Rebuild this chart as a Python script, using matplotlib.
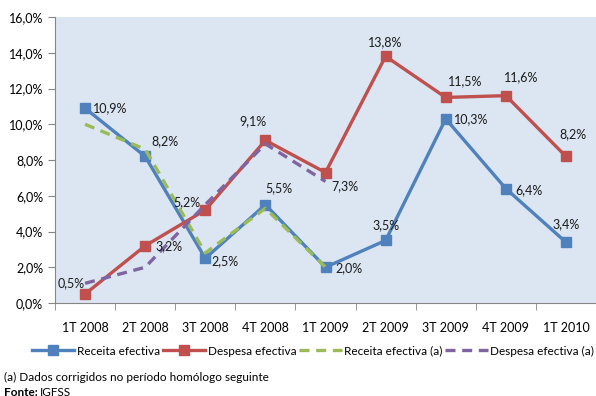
import numpy as np
import matplotlib.pyplot as plt
from matplotlib.ticker import FuncFormatter

# Quarterly growth rates (%)
quarters = ['1T 2008', '2T 2008', '3T 2008', '4T 2008', '1T 2009',
            '2T 2009', '3T 2009', '4T 2009', '1T 2010']
receita = [10.9, 8.2, 2.5, 5.5, 2.0, 3.5, 10.3, 6.4, 3.4]
despesa = [0.5, 3.2, 5.2, 9.1, 7.3, 13.8, 11.5, 11.6, 8.2]
receita_a = [10.0, 8.6, 2.8, 5.3, 2.0]
despesa_a = [1.1, 2.0, 5.5, 8.9, 6.8]

# label offsets in points (dx, dy) for each value label
off_receita = [(18, 0), (14, 11), (14, -2), (10, 12), (17, -1), (0, 11), (18, 0), (17, -1), (0, 13)]
off_despesa = [(-10, 8), (17, 0), (-13, 6), (-9, 14), (14, -10), (0, 10), (14, 12), (11, 13), (5, 16)]

plt.rcParams['font.family'] = ['Lato', 'DejaVu Sans']

blue = '#4F81BD'
red = '#C0504D'
green = '#9BBB59'
purple = '#8064A2'

fig = plt.figure(figsize=(5.96, 3.96), dpi=100)
ax = fig.add_axes([55 / 596, 1 - 303 / 396, 541 / 596, 286 / 396])
ax.set_facecolor('#DCE6F2')

x = np.arange(len(quarters))
ax.plot(x, receita, color=blue, lw=2.4, marker='s', ms=6.5, label='Receita efectiva', zorder=3)
ax.plot(x, despesa, color=red, lw=2.4, marker='s', ms=6.5, label='Despesa efectiva', zorder=3)
ax.plot(x[:len(receita_a)], receita_a, color=green, lw=2.4, ls=(0, (3, 2)),
        label='Receita efectiva (a)', zorder=4)
ax.plot(x[:len(despesa_a)], despesa_a, color=purple, lw=2.4, ls=(0, (3, 2)),
        label='Despesa efectiva (a)', zorder=4)

def pct(v):
    return f'{v:.1f}%'.replace('.', ',')

for vals, offs in ((receita, off_receita), (despesa, off_despesa)):
    for i, (v, o) in enumerate(zip(vals, offs)):
        ax.annotate(pct(v), (i, v), xytext=o, textcoords='offset points',
                    ha='center', va='center', fontsize=9, color='#1a1a1a', zorder=5)

ax.set_xlim(-0.5, len(quarters) - 0.5)
ax.set_ylim(0, 16)
ax.set_yticks(np.arange(0, 17, 2))
ax.yaxis.set_major_formatter(FuncFormatter(lambda v, p: pct(v)))
ax.set_xticks(x)
ax.set_xticklabels(quarters)
ax.set_xticks(np.arange(-0.5, len(quarters), 1), minor=True)
ax.tick_params(axis='x', which='major', length=0, pad=14, labelsize=9)
ax.tick_params(axis='x', which='minor', length=5, color='#868686')
ax.tick_params(axis='y', length=5, color='#868686', labelsize=9)

for s in ('top', 'right'):
    ax.spines[s].set_visible(False)
for s in ('left', 'bottom'):
    ax.spines[s].set_color('#868686')

handles, labels = ax.get_legend_handles_labels()
fig.legend(handles, labels, loc='center', bbox_to_anchor=(313 / 596, 1 - 351 / 396),
           ncol=4, frameon=False, fontsize=8.5, handlelength=3.6, handletextpad=0.2,
           columnspacing=0.25, borderpad=0, borderaxespad=0)

fig.text(4 / 596, 1 - 377 / 396, '(a) Dados corrigidos no período homólogo seguinte',
         fontsize=8.5, va='center')
fig.text(4 / 596, 1 - 392 / 396, 'Fonte:', fontsize=8.5, fontweight='bold', va='center')
fig.text(40 / 596, 1 - 392 / 396, 'IGFSS', fontsize=8.5, va='center')

fig.savefig('out.png', dpi=100)
